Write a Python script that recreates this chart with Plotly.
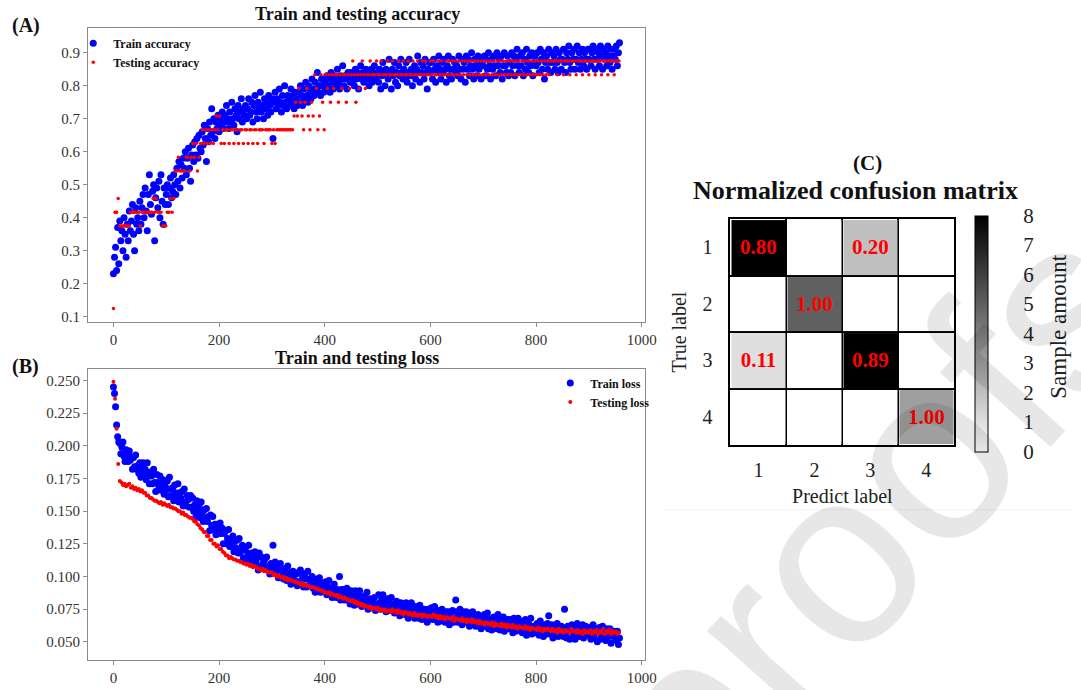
import numpy as np
import plotly.graph_objects as go

# ---------------- data ----------------
# train accuracy (x100), every 2nd epoch starting at 0
train_acc_pct = [
    23, 28, 31, 24, 37, 26, 39, 33, 36, 30, 40, 35, 28, 38, 33, 42, 36, 39, 44, 35, 30, 43, 38, 40, 36,
    45, 38, 43, 47, 40, 49, 42, 36, 47, 53, 44, 41, 48, 50, 33, 46, 49, 43, 51, 40, 53, 45, 38, 49, 44,
    47, 50, 44, 49, 52, 46, 48, 53, 50, 47, 55, 51, 57, 49, 56, 52, 58, 55, 60, 53, 58, 61, 55, 51, 59,
    62, 57, 63, 59, 64, 58, 65, 61, 60, 66, 62, 68, 64, 57, 67, 63, 69, 65, 73, 66, 70, 64, 69, 67, 71,
    66, 70, 68, 72, 67, 71, 69, 74, 70, 67, 72, 69, 75, 70, 68, 73, 71, 66, 74, 70, 72, 76, 69, 73, 71,
    74, 70, 73, 76, 71, 72, 75, 69, 74, 77, 72, 70, 75, 73, 78, 72, 74, 70, 76, 73, 75, 71, 77, 74, 72,
    76, 64, 75, 78, 73, 76, 74, 79, 75, 72, 77, 74, 80, 75, 73, 77, 76, 74, 79, 75, 77, 73, 78, 76, 74,
    78, 75, 80, 77, 74, 79, 76, 81, 77, 75, 80, 78, 76, 82, 79, 77, 81, 79, 84, 78, 80, 77, 82, 80, 78,
    81, 79, 83, 80, 82, 78, 84, 81, 79, 83, 82, 80, 85, 81, 79, 83, 82, 86, 80, 83, 82, 79, 84, 83, 81,
    84, 81, 83, 80, 85, 82, 84, 79, 83, 86, 82, 84, 81, 83, 85, 82, 84, 80, 83, 85, 81, 84, 86, 82, 83,
    84, 81, 85, 79, 83, 87, 84, 80, 85, 83, 82, 88, 84, 79, 85, 83, 87, 81, 84, 80, 86, 83, 88, 84, 82,
    85, 82, 87, 81, 84, 88, 83, 85, 80, 84, 86, 82, 85, 89, 84, 81, 87, 84, 86, 82, 88, 84, 79, 85, 87,
    84, 87, 82, 88, 85, 81, 86, 84, 89, 85, 82, 87, 84, 88, 85, 81, 86, 89, 83, 85, 82, 88, 85, 87, 84,
    86, 83, 89, 85, 82, 88, 85, 87, 81, 89, 85, 88, 83, 86, 90, 85, 82, 88, 86, 83, 89, 85, 87, 82, 88,
    86, 89, 83, 88, 85, 90, 86, 82, 88, 85, 89, 86, 83, 90, 86, 88, 84, 89, 82, 86, 90, 86, 84, 89, 83,
    87, 84, 90, 86, 89, 83, 88, 91, 86, 84, 89, 86, 90, 83, 88, 85, 91, 87, 84, 89, 86, 90, 83, 87, 89,
    86, 90, 87, 84, 91, 88, 85, 90, 82, 87, 89, 85, 91, 87, 84, 90, 87, 89, 85, 91, 87, 84, 90, 88, 85,
    88, 91, 87, 84, 90, 88, 92, 87, 85, 90, 88, 91, 85, 88, 92, 87, 90, 85, 88, 91, 86, 90, 88, 85, 91,
    88, 91, 86, 90, 92, 88, 85, 91, 88, 90, 86, 92, 89, 85, 91, 88, 90, 86, 92, 89, 87, 91, 85, 89, 91,
    88, 92, 86, 90, 93,
]
train_acc_step = 2

# testing accuracy as correct counts out of 24 test samples, every 3rd epoch
test_correct = [
    3, 10, 10, 11, 9, 9, 9, 9, 9, 9, 9, 10, 10, 10, 10, 10, 10, 9, 10, 10,
    10, 10, 10, 10, 10, 11, 10, 11, 10, 10, 10, 9, 9, 9, 10, 10, 11, 10, 11, 13,
    13, 14, 13, 13, 13, 13, 14,
    14, 13, 14, 15, 14, 15, 13, 14, 15,
    16, 15, 16, 15, 16, 15, 16, 15,
    16, 17, 16, 17, 15,
    16, 15, 16, 16, 15, 16, 16, 15, 16, 16, 15, 16, 16, 15, 16, 16, 15, 16, 16, 15, 16, 16, 15, 16, 16,
    16, 15, 16, 16, 16, 16, 15, 16, 15, 16, 16, 16, 16, 16, 16, 16, 16, 16, 16, 16,
    17, 18, 17, 19, 18, 17, 16, 18, 19, 17, 16, 18, 17, 20, 19, 16, 17, 20, 18, 16,
    20, 19, 20, 18, 20, 19, 20, 20, 18, 20, 19, 20, 20, 18, 20, 19, 20, 21, 20, 18, 20, 19, 20, 21, 20, 19, 20,
    20, 21, 20, 20, 20, 21, 20, 20, 21, 20, 20, 20, 21, 20, 20, 21, 20, 20, 20, 21, 20, 20, 21, 20, 20, 21,
    20, 20, 21, 20, 20, 21, 20, 20, 21, 20, 21, 20, 20, 21, 20, 21, 20, 20, 21, 20, 21, 20, 20, 21, 20, 21, 20,
    21, 20, 21, 20, 21, 20, 21, 20, 21, 20, 21, 20, 21, 20, 21, 20, 21, 20, 21, 20, 21, 20, 21, 20, 21, 20,
    21, 20, 21, 20, 21, 20, 21, 20, 21, 20, 21, 20, 21, 20, 21, 20, 21, 20, 21, 20, 21, 20, 21, 20, 21, 20,
    21, 20, 21, 20, 21, 20, 21, 20, 21, 20, 21,
    21, 21, 21, 20, 21, 21, 21, 20, 21, 21, 21, 20, 21, 21, 21, 20, 21, 21, 21, 20, 21, 21,
    21, 20, 21, 21, 21, 20, 21, 21, 21, 20, 21, 21, 21, 20, 21, 21, 21, 20, 21, 21, 21,
]
test_total = 24
test_step = 3

# train loss (x1000), every 2nd epoch
train_loss_milli = [
    245, 240, 230, 216, 207, 203, 202, 194, 199, 203, 192, 188, 197, 193, 188, 196, 189, 191, 182, 191, 184, 193, 182, 185, 179,
    187, 176, 182, 187, 178, 182, 174, 187, 177, 171, 180, 177, 171, 182, 172, 165, 178, 172, 169, 177, 166, 172, 174, 163, 169,
    166, 173, 161, 176, 167, 162, 168, 158, 170, 164, 160, 171, 157, 164, 160, 165, 154, 167, 157, 154, 162, 159, 153, 162, 153,
    160, 150, 155, 146, 158, 150, 154, 145, 157, 148, 142, 151, 145, 152, 142, 146, 135, 147, 139, 146, 136, 140, 132, 140, 136,
    133, 141, 133, 137, 125, 133, 135, 125, 129, 136, 123, 128, 124, 131, 119, 127, 122, 128, 118, 129, 118, 120, 124, 114, 121,
    122, 113, 118, 124, 114, 110, 118, 115, 110, 119, 112, 115, 105, 118, 108, 115, 106, 111, 113, 107, 115, 105, 108, 102, 110,
    107, 124, 103, 111, 104, 108, 99, 105, 110, 100, 105, 98, 106, 102, 97, 108, 99, 103, 94, 101, 104, 96, 97, 102, 93,
    103, 96, 105, 97, 99, 92, 102, 98, 92, 104, 93, 98, 95, 100, 91, 98, 88, 95, 98, 91, 99, 88, 92, 95, 89,
    90, 96, 86, 92, 97, 87, 90, 84, 92, 94, 88, 84, 90, 86, 100, 82, 90, 86, 90, 82, 87, 91, 82, 85, 79,
    89, 82, 85, 78, 89, 83, 79, 86, 89, 80, 77, 84, 81, 85, 78, 88, 75, 81, 83, 76, 82, 78, 84, 74, 79,
    78, 86, 80, 75, 83, 86, 77, 80, 73, 83, 77, 80, 74, 84, 74, 78, 72, 80, 81, 74, 76, 70, 80, 74, 77,
    77, 71, 80, 73, 68, 77, 74, 80, 70, 74, 68, 77, 71, 75, 68, 78, 71, 67, 73, 75, 68, 71, 65, 75, 68,
    71, 76, 67, 73, 77, 68, 72, 65, 74, 70, 66, 75, 68, 71, 65, 73, 67, 73, 63, 71, 68, 74, 65, 68, 82,
    73, 65, 71, 75, 67, 63, 73, 69, 65, 73, 67, 70, 62, 72, 63, 73, 65, 68, 62, 70, 71, 63, 66, 60, 68,
    64, 71, 62, 67, 72, 60, 67, 65, 59, 68, 69, 62, 66, 60, 71, 62, 59, 67, 64, 69, 58, 65, 62, 67, 60,
    67, 61, 64, 57, 68, 62, 58, 65, 68, 59, 61, 64, 57, 66, 59, 67, 55, 62, 64, 57, 68, 56, 61, 62, 57,
    57, 64, 60, 55, 66, 58, 62, 54, 63, 61, 56, 64, 70, 56, 60, 63, 53, 59, 62, 57, 64, 54, 61, 58, 62,
    61, 54, 75, 56, 53, 62, 59, 52, 60, 63, 55, 58, 52, 61, 64, 56, 54, 59, 57, 63, 53, 60, 62, 55, 58,
    55, 61, 52, 58, 63, 54, 57, 60, 50, 58, 61, 52, 55, 62, 53, 57, 51, 60, 56, 54, 60, 49, 57, 54, 58,
    56, 51, 58, 48, 53,
]
train_loss_step = 2

# testing loss (x1000), every 3rd epoch
test_loss_milli = [
    249, 236, 213, 186, 173, 172, 170, 171, 169, 170, 171, 168, 169, 167, 168, 166, 167, 165, 166, 164, 164, 162, 162, 160, 160,
    159, 158, 158, 157, 156, 157, 155, 156, 155, 154, 155, 153, 153, 152, 152, 151, 150, 150, 148, 149, 147, 147, 146, 145, 145,
    144, 142, 142, 140, 139, 137, 136, 134, 134, 131, 131, 128, 128, 125, 125, 123, 124, 121, 121, 119, 118, 116, 116, 114, 115,
    114, 113, 113, 112, 112, 111, 111, 110, 110, 109, 110, 108, 109, 107, 108, 107, 106, 106, 105, 106, 104, 105, 104, 103, 103,
    103, 101, 102, 100, 101, 100, 99, 100, 98, 99, 97, 98, 97, 97, 96, 96, 95, 95, 94, 95, 93, 94, 93, 93, 92,
    92, 92, 91, 91, 90, 90, 89, 89, 88, 88, 87, 88, 86, 87, 86, 85, 86, 84, 85, 84, 83, 84, 83, 82, 82,
    81, 82, 80, 81, 79, 80, 78, 79, 77, 78, 77, 76, 77, 75, 76, 76, 75, 76, 74, 75, 74, 75, 73, 74, 74,
    73, 75, 73, 74, 72, 74, 72, 73, 71, 73, 72, 71, 72, 71, 70, 72, 70, 71, 70, 71, 69, 71, 70, 69, 70,
    70, 69, 71, 69, 70, 68, 70, 68, 69, 67, 69, 68, 68, 67, 69, 66, 68, 67, 67, 66, 68, 66, 67, 65, 67,
    66, 65, 67, 65, 66, 64, 66, 64, 65, 63, 65, 64, 64, 63, 65, 62, 64, 63, 63, 62, 64, 62, 63, 61, 63,
    62, 61, 63, 61, 62, 60, 62, 61, 61, 60, 62, 60, 61, 59, 61, 60, 60, 59, 61, 59, 60, 58, 60, 59, 60,
    59, 58, 60, 58, 59, 57, 60, 58, 59, 57, 59, 58, 58, 57, 60, 58, 58, 57, 59, 57, 58, 56, 59, 57, 58,
    57, 59, 56, 58, 57, 59, 56, 58, 57, 60, 56, 58, 57, 59, 56, 58, 57, 58, 56, 57,
]
test_loss_step = 3

# confusion matrix (sample counts) and normalized values
class_labels = ["1", "2", "3", "4"]
cm_counts = [
    [8, 0, 2, 0],
    [0, 5, 0, 0],
    [1, 0, 8, 0],
    [0, 0, 0, 3],
]
cm_norm = [
    [0.80, 0.00, 0.20, 0.00],
    [0.00, 1.00, 0.00, 0.00],
    [0.11, 0.00, 0.89, 0.00],
    [0.00, 0.00, 0.00, 1.00],
]
acc_ticks = [0.1, 0.2, 0.3, 0.4, 0.5, 0.6, 0.7, 0.8, 0.9]
loss_ticks = [0.050, 0.075, 0.100, 0.125, 0.150, 0.175, 0.200, 0.225, 0.250]
epoch_ticks = [0, 200, 400, 600, 800, 1000]
count_ticks = [0, 1, 2, 3, 4, 5, 6, 7, 8]

# ---------------- derived ----------------
tr_acc = np.array(train_acc_pct) / 100.0
tr_acc_ep = np.arange(len(tr_acc)) * train_acc_step
te_acc = np.array(test_correct) / test_total
te_acc_ep = np.arange(len(te_acc)) * test_step
tr_loss = np.array(train_loss_milli) / 1000.0
tr_loss_ep = np.arange(len(tr_loss)) * train_loss_step
te_loss = np.array(test_loss_milli) / 1000.0
te_loss_ep = np.arange(len(te_loss)) * test_step
cell_text = [[("%.2f" % v) if v > 0 else "" for v in row] for row in cm_norm]
ncls = len(class_labels)
cls_pos = list(range(1, ncls + 1))

SERIF = "Liberation Serif"
W, H = 1081, 690

def px_x(p):
    return p / W

def px_y(p):
    return 1 - p / H

fig = go.Figure()

fig.add_trace(go.Scatter(x=tr_acc_ep, y=tr_acc, mode="markers", name="Train accuracy",
                         marker=dict(color="#0000ff", size=7), xaxis="x", yaxis="y", legend="legend"))
fig.add_trace(go.Scatter(x=te_acc_ep, y=te_acc, mode="markers", name="Testing accuracy",
                         marker=dict(color="#ff0000", size=3.5), xaxis="x", yaxis="y", legend="legend"))
fig.add_trace(go.Scatter(x=tr_loss_ep, y=tr_loss, mode="markers", name="Train loss",
                         marker=dict(color="#0000ff", size=7), xaxis="x2", yaxis="y2", legend="legend2"))
fig.add_trace(go.Scatter(x=te_loss_ep, y=te_loss, mode="markers", name="Testing loss",
                         marker=dict(color="#ff0000", size=4), xaxis="x2", yaxis="y2", legend="legend2"))

fig.add_trace(go.Heatmap(
    z=cm_counts, x=cls_pos, y=cls_pos, text=cell_text, texttemplate="%{text}",
    textfont=dict(family=SERIF, size=21, color="#ff0000", weight="bold"),
    colorscale=[[0, "#ffffff"], [1, "#000000"]], zmin=0, zmax=8, xgap=2, ygap=2,
    xaxis="x3", yaxis="y3", showlegend=False, hoverinfo="skip",
    colorbar=dict(x=px_x(985), xanchor="left", xpad=0, y=px_y(335), yanchor="middle", ypad=0,
                  thickness=13, thicknessmode="pixels", len=236, lenmode="pixels",
                  outlinecolor="#000000", outlinewidth=1,
                  tickvals=count_ticks, ticks="outside", ticklen=31, tickcolor="rgba(0,0,0,0)",
                  tickfont=dict(family=SERIF, size=21, color="#222")),
))

frame = "#8c8c8c"
tickfont = dict(family=SERIF, size=15, color="#333")
common_x = dict(range=[-48, 1007], tickvals=epoch_ticks, ticks="outside", ticklen=4, tickcolor=frame,
                showline=True, mirror=True, linecolor=frame, linewidth=1.2, showgrid=False, zeroline=False,
                tickfont=tickfont)
common_y = dict(ticks="outside", ticklen=4, tickcolor=frame, showline=True, mirror=True, linecolor=frame,
                linewidth=1.2, showgrid=False, zeroline=False, tickfont=tickfont)

fig.update_layout(
    width=W, height=H, margin=dict(l=0, r=0, t=0, b=0),
    paper_bgcolor="white", plot_bgcolor="white",
    xaxis=dict(domain=[px_x(89), px_x(652)], anchor="y", **common_x),
    yaxis=dict(domain=[px_y(323), px_y(28)], anchor="x", range=[0.085, 0.975], tickvals=acc_ticks,
               tickformat=".1f", **common_y),
    xaxis2=dict(domain=[px_x(89), px_x(652)], anchor="y2", **common_x),
    yaxis2=dict(domain=[px_y(663), px_y(371)], anchor="x2", range=[0.036, 0.2585], tickvals=loss_ticks,
                tickformat=".3f", **common_y),
    xaxis3=dict(domain=[px_x(738), px_x(964)], anchor="y3", range=[0.5, ncls + 0.5],
                tickvals=cls_pos, ticktext=class_labels, ticks="outside", ticklen=6,
                tickcolor="rgba(0,0,0,0)", showline=True, mirror=True, linecolor="#000", linewidth=2,
                showgrid=False, zeroline=False,
                minor=dict(tick0=0.5, dtick=1, showgrid=True, gridcolor="#000", gridwidth=2),
                tickfont=dict(family=SERIF, size=20, color="#222"),
                title=dict(text="Predict label", font=dict(family=SERIF, size=20, color="#222"), standoff=9)),
    yaxis3=dict(domain=[px_y(447), px_y(220)], anchor="x3", range=[ncls + 0.5, 0.5],
                tickvals=cls_pos, ticktext=class_labels, ticks="outside", ticklen=12,
                tickcolor="rgba(0,0,0,0)", showline=True, mirror=True, linecolor="#000", linewidth=2,
                showgrid=False, zeroline=False,
                minor=dict(tick0=0.5, dtick=1, showgrid=True, gridcolor="#000", gridwidth=2),
                tickfont=dict(family=SERIF, size=20, color="#222"),
                title=dict(text="True label", font=dict(family=SERIF, size=20, color="#222"), standoff=10)),
    legend=dict(x=px_x(74), xanchor="left", y=px_y(29), yanchor="top", bgcolor="rgba(0,0,0,0)",
                font=dict(family=SERIF, size=12, color="#111", weight="bold"), tracegroupgap=0,
                itemwidth=30),
    legend2=dict(x=px_x(661), xanchor="right", y=px_y(370), yanchor="top", bgcolor="rgba(0,0,0,0)",
                 font=dict(family=SERIF, size=12, color="#111", weight="bold"), tracegroupgap=0,
                 itemwidth=30),
)

ann = [
    dict(text="<b>Train and testing accuracy</b>", x=px_x(361), y=px_y(14), font=dict(family=SERIF, size=18, color="#111")),
    dict(text="<b>Train and testing loss</b>", x=px_x(361), y=px_y(360), font=dict(family=SERIF, size=18, color="#111")),
    dict(text="<b>(A)</b>", x=px_x(26), y=px_y(26), font=dict(family=SERIF, size=20, color="#111")),
    dict(text="<b>(B)</b>", x=px_x(26), y=px_y(368), font=dict(family=SERIF, size=20, color="#111")),
    dict(text="<b>(C)</b>", x=px_x(876), y=px_y(164), font=dict(family=SERIF, size=21, color="#111")),
    dict(text="<b>Normalized confusion matrix</b>", x=px_x(864), y=px_y(191), font=dict(family=SERIF, size=26, color="#111")),
    dict(text="Sample amount", x=px_x(1069), y=px_y(328), textangle=-90, font=dict(family=SERIF, size=23, color="#222")),
    dict(text="proofs", x=px_x(878), y=px_y(522), textangle=-48,
         font=dict(family="Liberation Sans", size=250, color="rgba(0,0,0,0.095)")),
]
for a in ann:
    a.update(xref="paper", yref="paper", showarrow=False, xanchor="center", yanchor="middle")
fig.update_layout(annotations=ann)

fig.add_shape(type="line", xref="paper", yref="paper", x0=px_x(670), x1=1, y0=px_y(512), y1=px_y(512),
              line=dict(color="#f2f2f2", width=1), layer="below")

fig.write_html("out.html")
